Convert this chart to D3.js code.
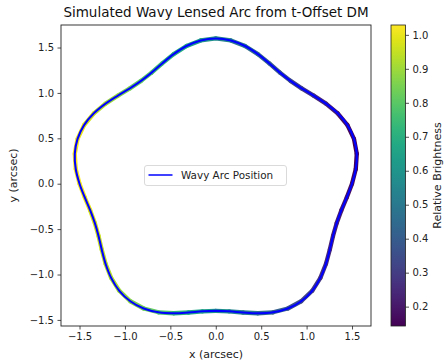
<!DOCTYPE html>
<html>
<head>
<meta charset="utf-8">
<script src="https://cdn.jsdelivr.net/npm/d3@7"></script>
<style>
  html, body { margin: 0; padding: 0; background: #fff; }
  svg { display: block; font-family: "DejaVu Sans", sans-serif; }
</style>
</head>
<body>
<svg id="chart" width="445" height="364"></svg>
<script>
// Sampled arc positions: polar angle (deg) and radius (arcsec)
const angleDeg = [0, 6, 12, 18, 24, 30, 36, 42, 48, 54, 60, 66, 72, 78, 84, 90, 96, 102, 108, 114,
  120, 126, 132, 138, 144, 150, 156, 162, 168, 174, 180, 186, 192, 198, 204, 210, 216, 222, 228, 234,
  240, 246, 252, 258, 264, 270, 276, 282, 288, 294, 300, 306, 312, 318, 324, 330, 336, 342, 348, 354];
const radius = [1.500, 1.550, 1.587, 1.600, 1.587, 1.550, 1.500, 1.450, 1.413, 1.400, 1.413, 1.450,
  1.500, 1.550, 1.587, 1.600, 1.587, 1.550, 1.500, 1.450, 1.413, 1.400, 1.413, 1.450,
  1.500, 1.550, 1.587, 1.600, 1.587, 1.550, 1.500, 1.450, 1.413, 1.400, 1.413, 1.450,
  1.500, 1.550, 1.587, 1.600, 1.587, 1.550, 1.500, 1.450, 1.413, 1.400, 1.413, 1.450,
  1.500, 1.550, 1.587, 1.600, 1.587, 1.550, 1.500, 1.450, 1.413, 1.400, 1.413, 1.450];
// Relative brightness at each sample
const brightness = [0.161, 0.149, 0.146, 0.155, 0.175, 0.206, 0.242, 0.281, 0.319, 0.353, 0.386, 0.419,
  0.455, 0.496, 0.540, 0.587, 0.634, 0.678, 0.719, 0.755, 0.788, 0.821, 0.855, 0.893,
  0.932, 0.968, 0.999, 1.019, 1.028, 1.025, 1.013, 0.997, 0.979, 0.965, 0.954, 0.944,
  0.932, 0.914, 0.889, 0.854, 0.812, 0.766, 0.719, 0.672, 0.629, 0.587, 0.545, 0.502,
  0.455, 0.408, 0.362, 0.320, 0.285, 0.260, 0.242, 0.230, 0.220, 0.209, 0.195, 0.177];

const xTicks = [-1.5, -1.0, -0.5, 0.0, 0.5, 1.0, 1.5];
const yTicks = [-1.5, -1.0, -0.5, 0.0, 0.5, 1.0, 1.5];
const cTicks = [0.2, 0.3, 0.4, 0.5, 0.6, 0.7, 0.8, 0.9, 1.0];

const titleText = "Simulated Wavy Lensed Arc from t-Offset DM";
const xLabel = "x (arcsec)";
const yLabel = "y (arcsec)";
const cLabel = "Relative Brightness";
const legendLabel = "Wavy Arc Position";

const points = angleDeg.map((a, i) => {
  const t = a * Math.PI / 180;
  return { x: radius[i] * Math.cos(t), y: radius[i] * Math.sin(t), b: brightness[i] };
});

const svg = d3.select("#chart");
const plot = { left: 61, right: 371, top: 25, bottom: 326 };

const x = d3.scaleLinear().domain([-1.704, 1.709]).range([plot.left, plot.right]);
const y = d3.scaleLinear().domain([-1.567, 1.748]).range([plot.bottom, plot.top]);
const bMin = 0.143, bMax = 1.029;
const color = d3.scaleSequential(d3.interpolateViridis).domain([bMin, bMax]);

const fmt = d => (d < 0 ? "\u2212" : "") + Math.abs(d).toFixed(1);

// Brightness-coloured trace under the position line
const halo = svg.append("g");
points.forEach((p, i) => {
  const q = points[(i + 1) % points.length];
  halo.append("line")
    .attr("x1", x(p.x)).attr("y1", y(p.y))
    .attr("x2", x(q.x)).attr("y2", y(q.y))
    .attr("stroke", color(p.b))
    .attr("stroke-width", 4.3)
    .attr("stroke-linecap", "round");
});

// Arc position line
const line = d3.line().x(d => x(d.x)).y(d => y(d.y)).curve(d3.curveCatmullRomClosed);
svg.append("path")
  .datum(points)
  .attr("d", line)
  .attr("fill", "none")
  .attr("stroke", "#0000ff")
  .attr("stroke-width", 2.1);

// Axes frame
svg.append("rect")
  .attr("x", plot.left).attr("y", plot.top)
  .attr("width", plot.right - plot.left).attr("height", plot.bottom - plot.top)
  .attr("fill", "none").attr("stroke", "#222").attr("stroke-width", 0.9);

const xAxis = d3.axisBottom(x).tickValues(xTicks).tickFormat(fmt).tickSize(3.5).tickPadding(3.5);
const gx = svg.append("g").attr("transform", `translate(0,${plot.bottom})`).call(xAxis);
const yAxis = d3.axisLeft(y).tickValues(yTicks).tickFormat(fmt).tickSize(3.5).tickPadding(3.5);
const gy = svg.append("g").attr("transform", `translate(${plot.left},0)`).call(yAxis);
[gx, gy].forEach(g => {
  g.select(".domain").remove();
  g.selectAll(".tick line").attr("stroke", "#222").attr("stroke-width", 0.8);
  g.selectAll(".tick text").attr("fill", "#222").style("font-size", "10px")
    .style("font-family", "DejaVu Sans, sans-serif");
});

// Titles
svg.append("text").attr("x", (plot.left + plot.right) / 2).attr("y", 17)
  .attr("text-anchor", "middle").style("font-size", "13.5px").attr("fill", "#111").text(titleText);
svg.append("text").attr("x", (plot.left + plot.right) / 2).attr("y", 358)
  .attr("text-anchor", "middle").style("font-size", "11px").attr("fill", "#222").text(xLabel);
svg.append("text").attr("transform", `translate(17,${(plot.top + plot.bottom) / 2}) rotate(-90)`)
  .attr("text-anchor", "middle").style("font-size", "11px").attr("fill", "#222").text(yLabel);

// Legend
const lg = svg.append("g");
lg.append("rect").attr("x", 144.5).attr("y", 165.5).attr("width", 142).attr("height", 20)
  .attr("rx", 2.5).attr("fill", "#fff").attr("fill-opacity", 0.8)
  .attr("stroke", "#d0d0d0").attr("stroke-width", 0.8);
lg.append("line").attr("x1", 148.5).attr("x2", 172.5).attr("y1", 175).attr("y2", 175)
  .attr("stroke", "#0000ff").attr("stroke-width", 1.5);
lg.append("text").attr("x", 181).attr("y", 179).style("font-size", "10.4px").attr("fill", "#222")
  .text(legendLabel);

// Colorbar
const cb = { left: 391, right: 405.5, top: 25, bottom: 326 };
const cScale = d3.scaleLinear().domain([bMin, bMax]).range([cb.bottom, cb.top]);
const defs = svg.append("defs");
const grad = defs.append("linearGradient").attr("id", "viridis")
  .attr("x1", 0).attr("y1", 1).attr("x2", 0).attr("y2", 0);
d3.range(0, 1.0001, 0.05).forEach(t => {
  grad.append("stop").attr("offset", t).attr("stop-color", d3.interpolateViridis(t));
});
svg.append("rect").attr("x", cb.left).attr("y", cb.top)
  .attr("width", cb.right - cb.left).attr("height", cb.bottom - cb.top)
  .attr("fill", "url(#viridis)").attr("stroke", "#222").attr("stroke-width", 0.8);
const cAxis = d3.axisRight(cScale).tickValues(cTicks).tickFormat(d => d.toFixed(1))
  .tickSize(3.5).tickPadding(3.5);
const gc = svg.append("g").attr("transform", `translate(${cb.right},0)`).call(cAxis);
gc.select(".domain").remove();
gc.selectAll(".tick line").attr("stroke", "#222").attr("stroke-width", 0.8);
gc.selectAll(".tick text").attr("fill", "#222").style("font-size", "10px")
  .style("font-family", "DejaVu Sans, sans-serif");
svg.append("text").attr("transform", `translate(441,${(cb.top + cb.bottom) / 2}) rotate(-90)`)
  .attr("text-anchor", "middle").style("font-size", "11px").attr("fill", "#222").text(cLabel);
</script>
</body>
</html>
